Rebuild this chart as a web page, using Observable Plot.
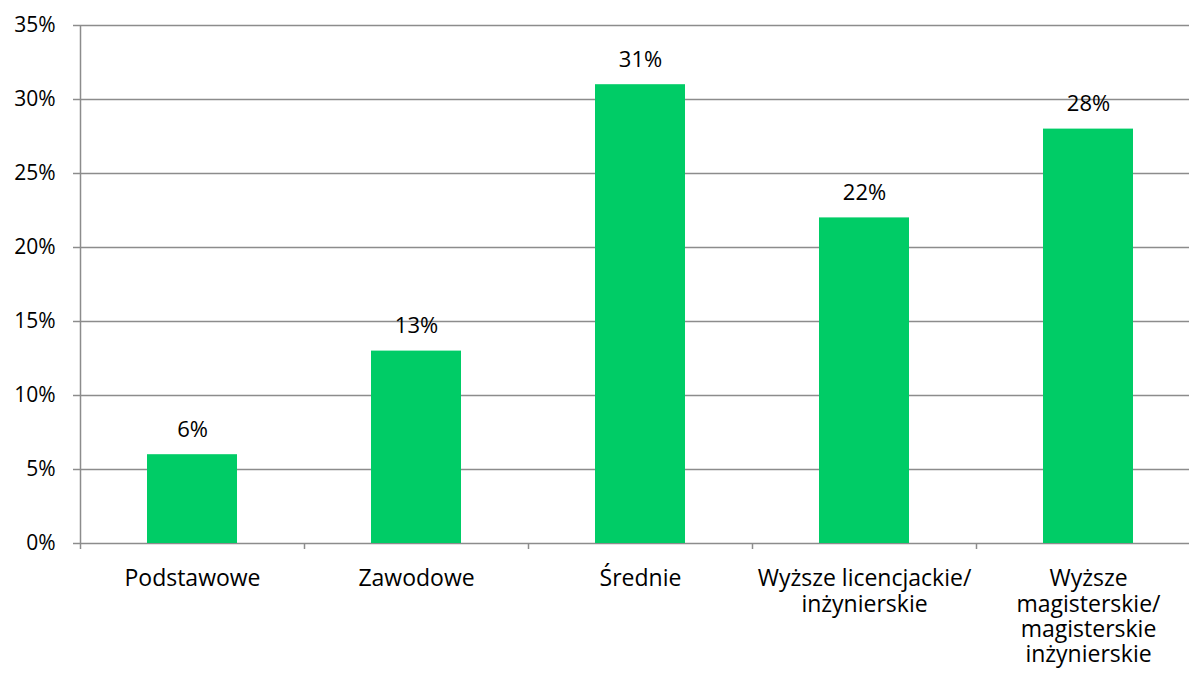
<!DOCTYPE html>
<html><head><meta charset="utf-8">
<script src="https://cdn.jsdelivr.net/npm/d3@7"></script>
<script src="https://cdn.jsdelivr.net/npm/@observablehq/plot@0.6"></script>
<style>html,body{margin:0;padding:0;background:#fff;overflow:hidden}</style>
</head><body><div id="chart"></div>
<script>
const categories = ["Podstawowe", "Zawodowe", "Średnie", "Wyższe licencjackie/ inżynierskie", "Wyższe magisterskie/ magisterskie inżynierskie"];
const tickLabels = ["Podstawowe", "Zawodowe", "Średnie", "Wyższe licencjackie/\ninżynierskie", "Wyższe\nmagisterskie/\nmagisterskie\ninżynierskie"];
const values = [6, 13, 31, 22, 28];
const yTicks = [0, 5, 10, 15, 20, 25, 30, 35];

const data = categories.map((c, i) => ({category: c, value: values[i]}));
const labelOf = new Map(categories.map((c, i) => [c, tickLabels[i]]));

const width = 1189, height = 685, mL = 80, mR = -11;
const step = (width - mL - mR) / categories.length;
const grey = "#8c8c8c";

const chart = Plot.plot({
  width, height,
  marginLeft: mL, marginRight: mR, marginTop: 25, marginBottom: 142,
  style: {fontFamily: "'Open Sans', sans-serif", fontSize: "21px", color: "#000", background: "#fff", overflow: "hidden"},
  x: {domain: categories, paddingInner: 0.598, paddingOuter: 0.299, axis: null},
  y: {domain: [0, 35], axis: null},
  marks: [
    Plot.ruleY(yTicks, {stroke: grey, strokeWidth: 1.5}),
    Plot.ruleX([categories[0]], {dx: -step / 2, y1: 0, y2: 35, stroke: grey, strokeWidth: 1.5}),
    Plot.ruleX(categories, {x: d => d, y1: 0, y2: 0, dx: -step / 2, insetBottom: -6, stroke: grey, strokeWidth: 1.5}),
    Plot.barY(data, {x: "category", y: "value", fill: "#00cc66"}),
    Plot.text(data, {x: "category", y: "value", text: d => d.value + "%", dy: -25, fill: "#000", fontSize: 22}),
    Plot.axisY({ticks: yTicks, tickSize: 7, tickPadding: 18, tickFormat: d => d + "%", stroke: grey, strokeWidth: 1.5, fill: "#000", label: null, fontSize: 21}),
    Plot.axisX({tickSize: 0, tickPadding: 25, tickFormat: d => labelOf.get(d), lineHeight: 1.1, fill: "#000", label: null, fontSize: 23})
  ]
});
document.getElementById("chart").append(chart);
</script>
</body></html>
